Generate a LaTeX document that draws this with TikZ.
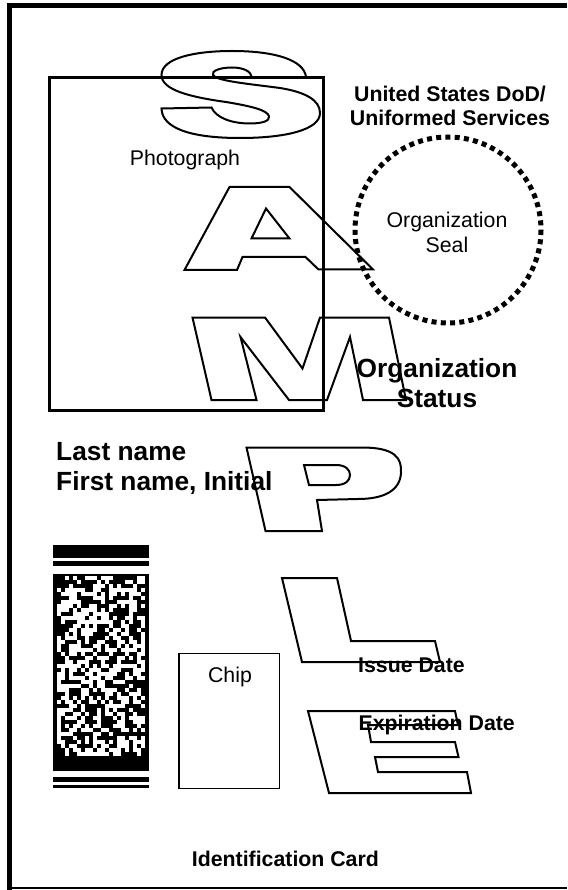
\documentclass[tikz,border=0pt]{standalone}
\usepackage{fontspec}
\setmainfont{Liberation Sans}
\usetikzlibrary{positioning}

\tikzset{
  letter/.style={draw, line width=2pt, line join=miter},
  frame/.style={draw, line width=3pt},
  label/.style={font=\fontsize{21.3}{24.5}\selectfont, align=center, inner sep=0pt},
  boldlabel/.style={label, font=\bfseries\fontsize{21.3}{24.5}\selectfont},
  biglabel/.style={inner sep=0pt, font=\bfseries\fontsize{26.3}{30}\selectfont}
}

\begin{document}
\begin{tikzpicture}[x=1pt, y=-1pt]
    \useasboundingbox (0,0) rectangle (567,890);

    % Card edge
    \draw[line width=5pt] (567,6) -- (9.5,6) -- (9.5,890);
    \draw[line width=2pt] (9.5,888) -- (567,888);

    % Frames
    \draw[frame] (49,78) rectangle (323,410);
    \draw[line width=1.5pt] (179,653.5) rectangle (279.5,788.5);
    \draw[line width=5pt, dash pattern=on 5pt off 4.27pt] (448,230) circle (93);

    % Letters
    \draw[letter] (161.5,108.5) -- (211.5,107.5)
      .. controls (216,118) and (232,123.5) .. (250,123.5)
      .. controls (262,123.5) and (270,121) .. (269,116.5)
      .. controls (268,110) and (250,106) .. (226,102)
      .. controls (190,97) and (161.5,90) .. (161.5,75)
      .. controls (161.5,58) and (195,51) .. (232,51)
      .. controls (275,51) and (304,60) .. (306,77)
      -- (252,77.5)
      .. controls (251,71) and (243,67.5) .. (232,67.5)
      .. controls (220,67.5) and (211,71) .. (213,75)
      .. controls (216,81) and (250,84) .. (280,88)
      .. controls (305,92) and (320,100) .. (320,113)
      .. controls (320,130) and (285,138) .. (240,138)
      .. controls (190,138) and (162,128) .. cycle;
    \draw[letter] (184.5,270) -- (229.5,187) -- (289.5,187) -- (373,269.5)
      -- (318.5,269.5) -- (305.5,257) -- (242.5,257) -- (237,270) -- cycle;
    \draw[letter] (266,208.5) -- (289.5,238.5) -- (251.5,238.5) -- cycle;
    \draw[letter] (192.5,317.5) -- (265,317.5) -- (302.5,368.5) -- (320,317.5)
      -- (389,317.5) -- (406,400) -- (363,400) -- (350,337) -- (327,400)
      -- (289,400) -- (240.5,337) -- (256.5,400) -- (211.5,400) -- cycle;
    \draw[letter] (246.5,447.5) -- (362,447.5)
      .. controls (395,447.5) and (402,458) .. (401,473)
      .. controls (400,490) and (385,499) .. (358,499)
      -- (317,500) -- (322,531) -- (265.5,531) -- cycle;
    \draw[letter] (304,465) -- (336,465)
      .. controls (346,465) and (350,470) .. (350,475)
      .. controls (350,481) and (345,485) .. (336,485) -- (309,485) -- cycle;
    \draw[letter] (282,578) -- (337,578) -- (351,641) -- (435,641)
      -- (440,662) -- (302,662) -- cycle;
    \draw[letter] (308,711) -- (455,711) -- (458,725) -- (368,725) -- (371,742)
      -- (455,742) -- (458.5,757) -- (375,757) -- (378,772) -- (467,772)
      -- (471,793) -- (329,793) -- cycle;

    % Barcode
    \fill (52.5,545) rectangle (149,557.5);
    \fill (52.5,561) rectangle (149,565.5);
    \fill (52.5,574) rectangle (149,771);
    \pgfmathsetseed{2718}
    \foreach \r in {0,...,44}
      \foreach \c in {0,...,21} {
        \pgfmathrandominteger{\bit}{0}{1}
        \ifnum\bit=1 \fill[white] ({56.5+4*\c},{576+4*\r}) rectangle +(4,4); \fi
      }
    \fill (52.5,777) rectangle (149,782);
    \fill (52.5,785) rectangle (149,787.5);

    % Texts
    \node[boldlabel] (agency) at (450,106) {United States DoD/\\Uniformed Services};
    \node[label] (photo) at (185,160) {Photograph};
    \node[label] (seal) at (447,232.5) {Organization\\Seal};
    \node[biglabel, align=center] (status) at (437,383) {Organization\\Status};
    \node[biglabel, align=left, anchor=west] (name) at (56,468) {Last name\\First name, Initial};
    \node[label] (chip) at (230,676.7) {Chip};
    \node[boldlabel] (issue) at (411.5,665.5) {Issue Date};
    \node[boldlabel] (expiry) at (436.7,725) {Expiration Date};
    \node[boldlabel] (card) at (285.4,859.3) {Identification Card};
\end{tikzpicture}
\end{document}
